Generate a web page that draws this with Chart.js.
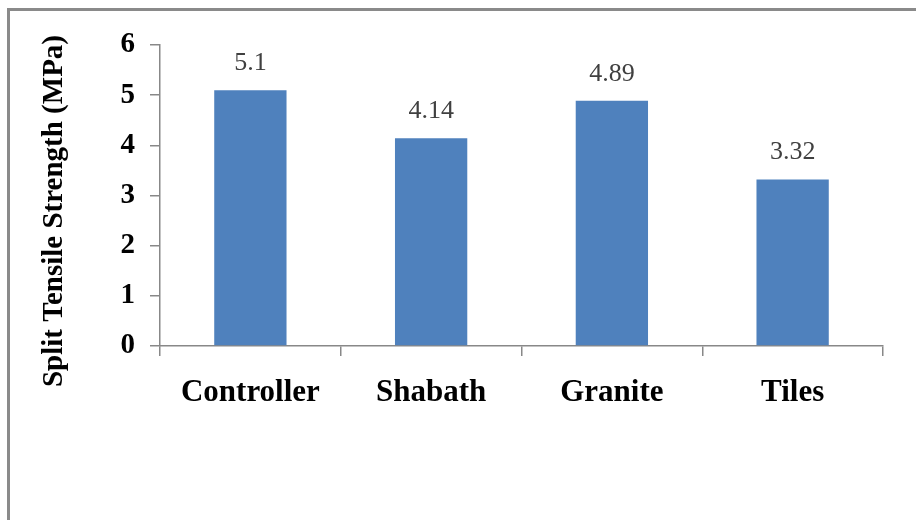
<!DOCTYPE html>
<html>
<head>
<meta charset="utf-8">
<script src="https://cdn.jsdelivr.net/npm/chart.js@4/dist/chart.umd.min.js"></script>
<style>
  html, body { margin: 0; padding: 0; background: #ffffff; overflow: hidden; }
  #wrap { position: relative; width: 916px; height: 520px; }
</style>
</head>
<body>
<div id="wrap"><canvas id="chart"></canvas></div>
<script>
// Split tensile strength by aggregate type
const categories = ['Controller', 'Shabath', 'Granite', 'Tiles'];
const strengthMPa = [5.1, 4.14, 4.89, 3.32];
const yTicks = [0, 1, 2, 3, 4, 5, 6];
const yTitle = 'Split Tensile Strength (MPa)';

const SERIF = "'Liberation Serif', 'Times New Roman', serif";
const AXIS_GREY = '#888888';

// Outer frame (top and left edges of the chart box)
const framePlugin = {
  id: 'frame',
  beforeDraw(chart) {
    const ctx = chart.ctx;
    ctx.save();
    ctx.strokeStyle = '#8a8a8a';
    ctx.lineWidth = 3;
    ctx.beginPath();
    ctx.moveTo(8.5, chart.height + 5);
    ctx.lineTo(8.5, 9.5);
    ctx.lineTo(chart.width + 5, 9.5);
    ctx.stroke();
    ctx.restore();
  }
};

// Value labels above each bar
const valueLabelPlugin = {
  id: 'valueLabels',
  afterDatasetsDraw(chart) {
    const ctx = chart.ctx;
    const meta = chart.getDatasetMeta(0);
    const values = chart.data.datasets[0].data;
    ctx.save();
    ctx.font = '26px ' + SERIF;
    ctx.fillStyle = '#404040';
    ctx.textAlign = 'center';
    ctx.textBaseline = 'middle';
    meta.data.forEach((bar, i) => {
      ctx.fillText(String(values[i]), bar.x, bar.y - 27);
    });
    ctx.restore();
  }
};

// Rotated y-axis title
const yTitlePlugin = {
  id: 'yTitle',
  afterDraw(chart) {
    const ctx = chart.ctx;
    ctx.save();
    ctx.translate(55, 211);
    ctx.rotate(-Math.PI / 2);
    ctx.font = 'bold 29px ' + SERIF;
    ctx.fillStyle = '#000000';
    ctx.textAlign = 'center';
    ctx.textBaseline = 'middle';
    ctx.fillText(yTitle, 0, 0);
    ctx.restore();
  }
};

new Chart(document.getElementById('chart'), {
  type: 'bar',
  data: {
    labels: categories,
    datasets: [{
      data: strengthMPa,
      backgroundColor: '#4F81BD',
      borderWidth: 0,
      categoryPercentage: 1.0,
      barPercentage: 0.4
    }]
  },
  options: {
    responsive: true,
    maintainAspectRatio: false,
    animation: false,
    layout: { padding: { top: 45, right: 33, left: 0, bottom: 0 } },
    plugins: {
      legend: { display: false },
      tooltip: { enabled: false }
    },
    scales: {
      x: {
        grid: {
          display: true,
          drawOnChartArea: false,
          drawTicks: true,
          tickLength: 10,
          color: AXIS_GREY,
          lineWidth: 1.5
        },
        border: { color: AXIS_GREY, width: 1.5 },
        ticks: {
          color: '#000000',
          font: { family: SERIF, size: 31, weight: 'bold' },
          padding: 18,
          maxRotation: 0,
          autoSkip: false
        },
        afterFit(scale) { scale.height = 174; }
      },
      y: {
        min: 0,
        max: 6,
        afterBuildTicks(scale) {
          scale.ticks = yTicks.map(v => ({ value: v }));
        },
        grid: {
          display: true,
          drawOnChartArea: false,
          drawTicks: true,
          tickLength: 10,
          color: AXIS_GREY,
          lineWidth: 1.5
        },
        border: { color: AXIS_GREY, width: 1.5 },
        ticks: {
          color: '#000000',
          font: { family: SERIF, size: 29, weight: 'bold' },
          padding: 15
        },
        afterFit(scale) { scale.width = 160; }
      }
    }
  },
  plugins: [framePlugin, valueLabelPlugin, yTitlePlugin]
});
</script>
</body>
</html>
